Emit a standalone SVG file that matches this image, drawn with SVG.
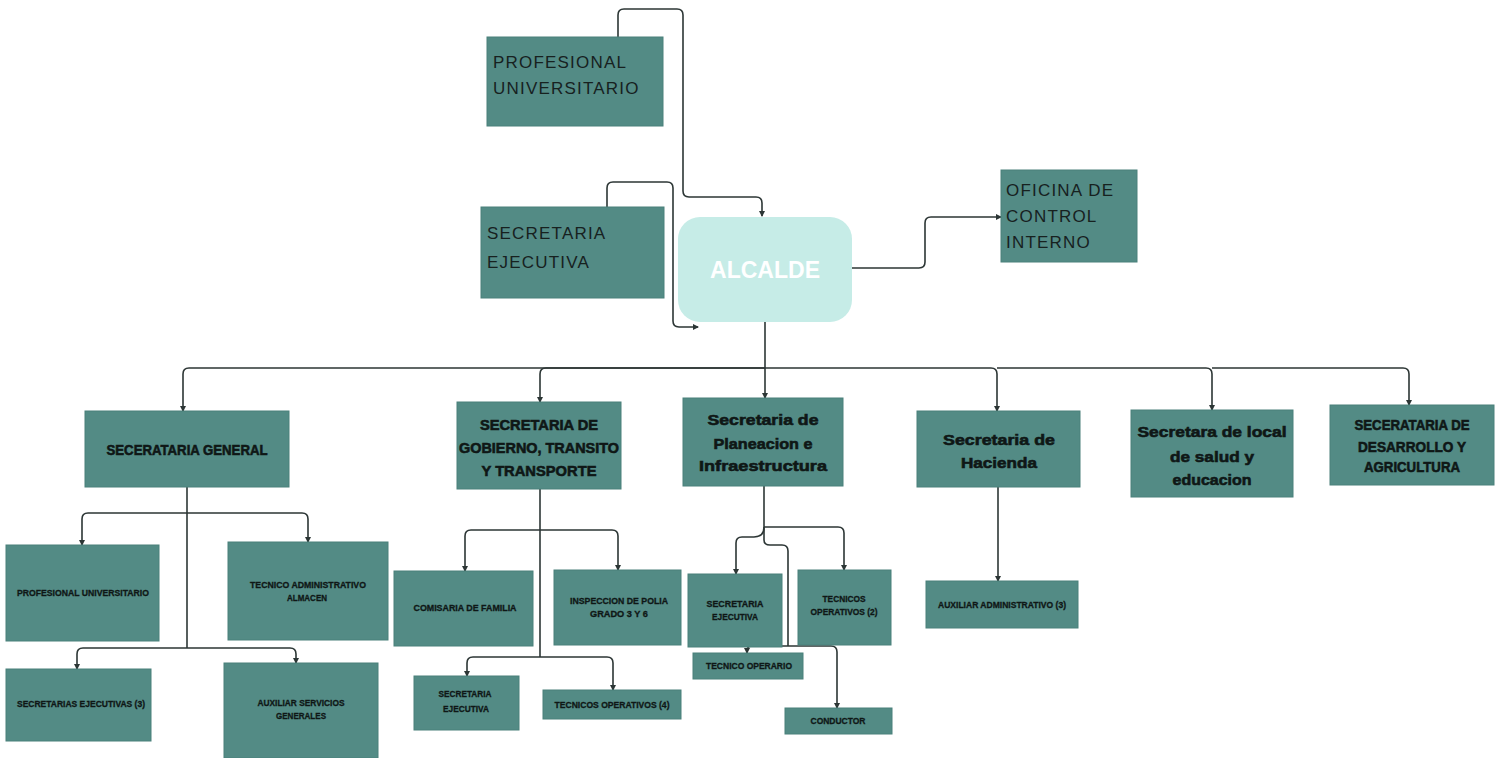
<svg xmlns="http://www.w3.org/2000/svg" width="1501" height="758" viewBox="0 0 1501 758">
<style>
.box{fill:#538b85;stroke:#4a807b;stroke-width:1}
.big{font-family:"Liberation Sans",Arial,sans-serif;font-size:17px;fill:#17211f;letter-spacing:1.2px}
.mid{font-family:"Liberation Sans Narrow","Liberation Sans",Arial,sans-serif;font-weight:bold;font-size:15px;fill:#0f1716;stroke:#0f1716;stroke-width:0.6;text-anchor:middle}
.sm{font-family:"Liberation Sans Narrow","Liberation Sans",Arial,sans-serif;font-weight:bold;font-size:9px;fill:#0f1716;stroke:#0f1716;stroke-width:0.3;text-anchor:middle}
.con path{fill:none;stroke:#2c3635;stroke-width:1.6}
</style>
<defs>
<marker id="ah" markerWidth="6" markerHeight="6" refX="5" refY="3" orient="auto" markerUnits="userSpaceOnUse">
<path d="M0,0 L6,3 L0,6 Z" fill="#2c3635"/>
</marker>
</defs>
<rect width="1501" height="758" fill="#ffffff"/>

<g class="con">
<path d="M618,37 V15 Q618,9 624,9 H677 Q683,9 683,15 V191 Q683,197 689,197 H756 Q762,197 762,203 V216" marker-end="url(#ah)"/>
<path d="M607,207 V188 Q607,182 613,182 H667 Q673,182 673,188 V321 Q673,327 679,327 H698" marker-end="url(#ah)"/>
<path d="M852,268 H919 Q925,268 925,262 V223 Q925,217 931,217 H1001" marker-end="url(#ah)"/>
<path d="M765,322 V368"/>
<path d="M765,368 H189 Q183,368 183,374 V411" marker-end="url(#ah)"/>
<path d="M765,368 H546 Q540,368 540,374 V402" marker-end="url(#ah)"/>
<path d="M765,368 V398" marker-end="url(#ah)"/>
<path d="M765,368 H991 Q997,368 997,374 V411" marker-end="url(#ah)"/>
<path d="M997,368 H1206 Q1212,368 1212,374 V410" marker-end="url(#ah)"/>
<path d="M1212,368 H1403 Q1409,368 1409,374 V405" marker-end="url(#ah)"/>
<path d="M187,487 V648"/>
<path d="M187,513 H88 Q82,513 82,519 V545" marker-end="url(#ah)"/>
<path d="M187,513 H302 Q308,513 308,519 V542" marker-end="url(#ah)"/>
<path d="M187,648 H83 Q77,648 77,654 V669" marker-end="url(#ah)"/>
<path d="M187,648 H290 Q296,648 296,654 V663" marker-end="url(#ah)"/>
<path d="M540,489 V657"/>
<path d="M540,530 H471 Q465,530 465,536 V571" marker-end="url(#ah)"/>
<path d="M540,530 H612 Q618,530 618,536 V570" marker-end="url(#ah)"/>
<path d="M540,657 H473 Q467,657 467,663 V676" marker-end="url(#ah)"/>
<path d="M540,657 H607 Q613,657 613,663 V690" marker-end="url(#ah)"/>
<path d="M764,486 V527"/>
<path d="M764,527 Q764,537 754,537 H742 Q736,537 736,543 V574" marker-end="url(#ah)"/>
<path d="M764,527 H838 Q844,527 844,533 V570" marker-end="url(#ah)"/>
<path d="M764,527 V540 Q764,545 770,545 H782 Q788,545 788,551 V646"/>
<path d="M788,646 H753 Q747,646 747,650 V653" marker-end="url(#ah)"/>
<path d="M788,646 H831 Q837,646 837,652 V708" marker-end="url(#ah)"/>
<path d="M998,487 V581" marker-end="url(#ah)"/>
</g>

<g id="prof-univ-top"><rect class="box" x="487" y="37" width="176" height="89"/>
<text class="big" x="493" y="68">PROFESIONAL</text><text class="big" x="493" y="94">UNIVERSITARIO</text></g>
<g id="sec-ejecutiva-top"><rect class="box" x="481" y="207" width="183" height="91"/>
<text class="big" x="487" y="239" font-size="18">SECRETARIA</text><text class="big" x="487" y="268" font-size="18">EJECUTIVA</text></g>
<g id="alcalde"><rect x="678" y="217" width="174" height="105" rx="22" fill="#c6ece7"/>
<text x="765" y="278" text-anchor="middle" font-family="Liberation Sans Narrow,Liberation Sans,Arial,sans-serif" font-weight="bold" font-size="24" fill="#ffffff" textLength="110" lengthAdjust="spacingAndGlyphs">ALCALDE</text></g>
<g id="oficina-control"><rect class="box" x="1001" y="170" width="136" height="92"/>
<text class="big" x="1006" y="196" font-size="16">OFICINA DE</text><text class="big" x="1006" y="222" font-size="16">CONTROL</text><text class="big" x="1006" y="248" font-size="16">INTERNO</text></g>

<g id="sec-general"><rect class="box" x="85" y="411" width="204" height="76"/>
<text class="mid" x="187" y="455" textLength="161" lengthAdjust="spacingAndGlyphs">SECERATARIA GENERAL</text></g>
<g id="sec-gobierno"><rect class="box" x="457" y="402" width="164" height="87"/>
<text class="mid" x="539" y="430" textLength="118" lengthAdjust="spacingAndGlyphs">SECRETARIA DE</text>
<text class="mid" x="539" y="453" textLength="160" lengthAdjust="spacingAndGlyphs">GOBIERNO, TRANSITO</text>
<text class="mid" x="539" y="476" textLength="115" lengthAdjust="spacingAndGlyphs">Y TRANSPORTE</text></g>
<g id="sec-planeacion"><rect class="box" x="683" y="398" width="160" height="88"/>
<text class="mid" x="763" y="425" textLength="111" lengthAdjust="spacingAndGlyphs">Secretaria de</text>
<text class="mid" x="763" y="449" textLength="99" lengthAdjust="spacingAndGlyphs">Planeacion e</text>
<text class="mid" x="763" y="471" textLength="128" lengthAdjust="spacingAndGlyphs">Infraestructura</text></g>
<g id="sec-hacienda"><rect class="box" x="917" y="411" width="163" height="76"/>
<text class="mid" x="999" y="445" textLength="112" lengthAdjust="spacingAndGlyphs">Secretaria de</text>
<text class="mid" x="999" y="468" textLength="76" lengthAdjust="spacingAndGlyphs">Hacienda</text></g>
<g id="sec-salud"><rect class="box" x="1131" y="410" width="162" height="87"/>
<text class="mid" x="1212" y="437" textLength="149" lengthAdjust="spacingAndGlyphs">Secretara de local</text>
<text class="mid" x="1212" y="462" textLength="84" lengthAdjust="spacingAndGlyphs">de salud y</text>
<text class="mid" x="1212" y="485" textLength="79" lengthAdjust="spacingAndGlyphs">educacion</text></g>
<g id="sec-desarrollo"><rect class="box" x="1330" y="405" width="164" height="80"/>
<text class="mid" x="1412" y="430" font-size="13" textLength="115" lengthAdjust="spacingAndGlyphs">SECERATARIA DE</text>
<text class="mid" x="1412" y="452" font-size="13" textLength="108" lengthAdjust="spacingAndGlyphs">DESARROLLO Y</text>
<text class="mid" x="1412" y="472" font-size="13" textLength="96" lengthAdjust="spacingAndGlyphs">AGRICULTURA</text></g>

<g id="prof-univ"><rect class="box" x="6" y="545" width="153" height="96"/>
<text class="sm" x="83" y="596" textLength="132" lengthAdjust="spacingAndGlyphs">PROFESIONAL UNIVERSITARIO</text></g>
<g id="tec-admin"><rect class="box" x="228" y="542" width="160" height="98"/>
<text class="sm" x="308" y="588" textLength="116" lengthAdjust="spacingAndGlyphs">TECNICO ADMINISTRATIVO</text>
<text class="sm" x="307" y="601" textLength="40" lengthAdjust="spacingAndGlyphs">ALMACEN</text></g>
<g id="sec-ejecutivas-3"><rect class="box" x="6" y="669" width="145" height="72"/>
<text class="sm" x="81" y="707" textLength="128" lengthAdjust="spacingAndGlyphs">SECRETARIAS EJECUTIVAS (3)</text></g>
<g id="aux-servicios"><rect class="box" x="224" y="663" width="154" height="95"/>
<text class="sm" x="301" y="706" textLength="87" lengthAdjust="spacingAndGlyphs">AUXILIAR SERVICIOS</text>
<text class="sm" x="301" y="719" textLength="50" lengthAdjust="spacingAndGlyphs">GENERALES</text></g>
<g id="comisaria"><rect class="box" x="394" y="571" width="139" height="75"/>
<text class="sm" x="465" y="611" textLength="103" lengthAdjust="spacingAndGlyphs">COMISARIA DE FAMILIA</text></g>
<g id="inspeccion"><rect class="box" x="554" y="570" width="127" height="75"/>
<text class="sm" x="619" y="604" textLength="98" lengthAdjust="spacingAndGlyphs">INSPECCION DE POLIA</text>
<text class="sm" x="619" y="617" textLength="58" lengthAdjust="spacingAndGlyphs">GRADO 3 Y 6</text></g>
<g id="sec-ejec-gob"><rect class="box" x="414" y="676" width="105" height="54"/>
<text class="sm" x="465" y="697" textLength="53" lengthAdjust="spacingAndGlyphs">SECRETARIA</text>
<text class="sm" x="466" y="712" textLength="46" lengthAdjust="spacingAndGlyphs">EJECUTIVA</text></g>
<g id="tec-oper-4"><rect class="box" x="543" y="690" width="138" height="29"/>
<text class="sm" x="612" y="708" textLength="115" lengthAdjust="spacingAndGlyphs">TECNICOS OPERATIVOS (4)</text></g>
<g id="sec-ejec-plan"><rect class="box" x="688" y="574" width="94" height="73"/>
<text class="sm" x="735" y="607" textLength="57" lengthAdjust="spacingAndGlyphs">SECRETARIA</text>
<text class="sm" x="735" y="620" textLength="46" lengthAdjust="spacingAndGlyphs">EJECUTIVA</text></g>
<g id="tec-oper-2"><rect class="box" x="798" y="570" width="93" height="75"/>
<text class="sm" x="844" y="602" textLength="43" lengthAdjust="spacingAndGlyphs">TECNICOS</text>
<text class="sm" x="844" y="615" textLength="67" lengthAdjust="spacingAndGlyphs">OPERATIVOS (2)</text></g>
<g id="tec-operario"><rect class="box" x="693" y="653" width="110" height="26"/>
<text class="sm" x="749" y="669" textLength="86" lengthAdjust="spacingAndGlyphs">TECNICO OPERARIO</text></g>
<g id="conductor"><rect class="box" x="785" y="708" width="107" height="26"/>
<text class="sm" x="838" y="724" textLength="55" lengthAdjust="spacingAndGlyphs">CONDUCTOR</text></g>
<g id="aux-admin"><rect class="box" x="926" y="581" width="152" height="47"/>
<text class="sm" x="1002" y="608" textLength="128" lengthAdjust="spacingAndGlyphs">AUXILIAR ADMINISTRATIVO (3)</text></g>
</svg>
